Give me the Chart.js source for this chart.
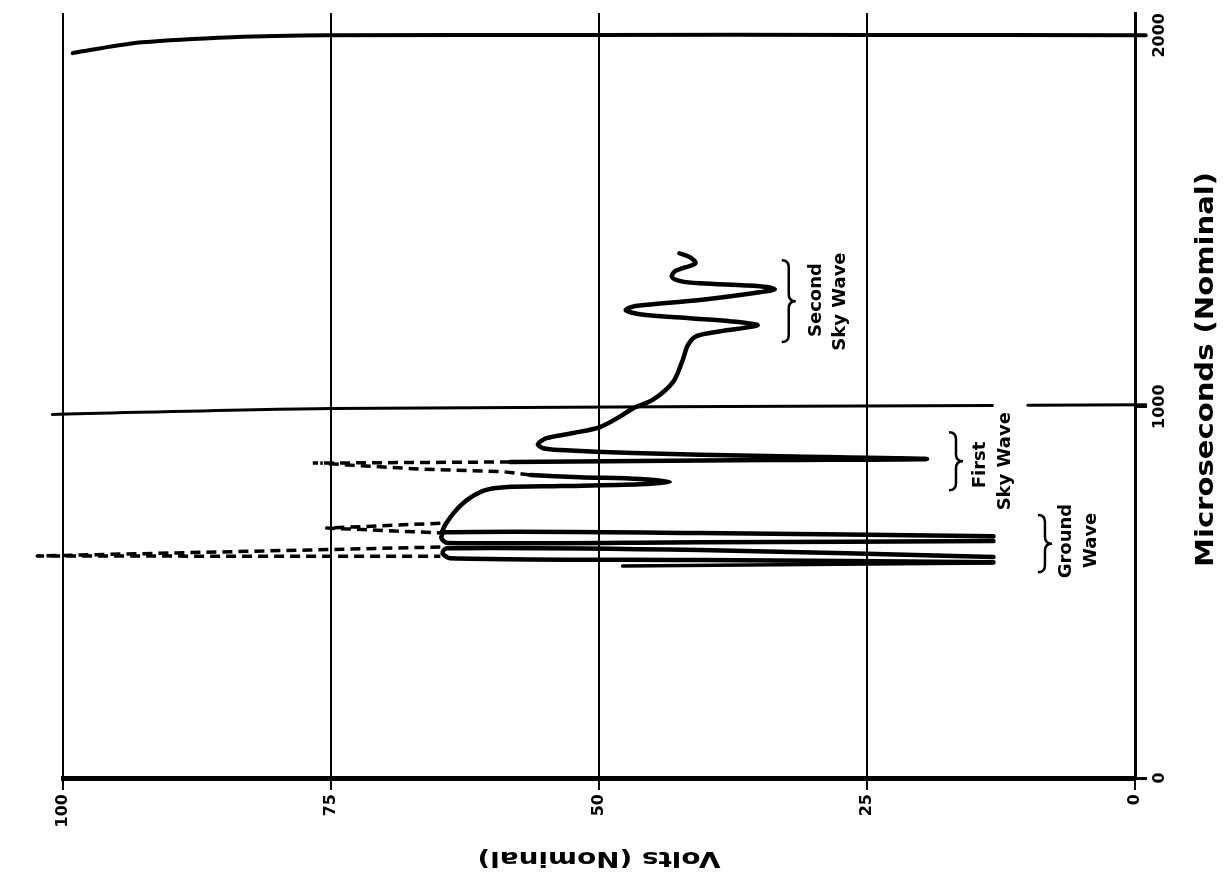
<!DOCTYPE html>
<html>
<head>
<meta charset="utf-8">
<script src="https://cdn.jsdelivr.net/npm/chart.js@4.4.0/dist/chart.umd.min.js"></script>
<style>
  body { margin: 0; background: #fff; }
  #wrap { width: 1227px; height: 880px; }
</style>
</head>
<body>
<div id="wrap"><canvas id="myChart"></canvas></div>
<script>
// x = volts (drawn reversed, 100 on the left), y = microseconds
var voltTicks = [0, 25, 50, 75, 100];
var usTicks = [0, 1000, 2000];

// ground wave
var leadV = [47.8, 13.2];
var leadUs = [571, 579];
var pulse1V = [13.2, 40.6, 63.9, 64.6, 64.2, 40.6, 13.2];
var pulse1Us = [581, 587, 592, 606, 619, 614, 595];
var pulse2V = [13.2, 40.6, 64.1, 64.7, 64.4, 40.6, 13.2];
var pulse2Us = [638, 635, 633, 646, 662, 660, 651];
var groundDash1V = [64.8, 77.0, 102.4, 77.0, 64.8];
var groundDash1Us = [622, 614, 598, 597, 597];
var groundDash2V = [64.8, 75.4, 64.8];
var groundDash2Us = [686, 673, 660];
var tipDotV = [102.4];
var tipDotUs = [592];

// first sky wave
var shoulderV = [64.7, 64.3, 63.4, 62.2, 60.6, 58.8, 53.6, 46.2, 43.4, 46.2, 51.8, 56.4];
var shoulderUs = [660, 684, 719, 751, 775, 783, 786, 791, 797, 805, 810, 816];
var skyDashLowV = [56.4, 59.0, 66.7, 73.5, 76.0];
var skyDashLowUs = [816, 825, 832, 843, 848];
var skyDashHighV = [58.3, 76.7];
var skyDashHighUs = [851, 848];

// first sky wave peak running up into the second sky wave
var traceV = [58.3, 34.3, 19.4, 34.3, 46.8, 53.6, 55.2, 55.7, 54.9, 52.4, 49.9, 48.0, 46.8,
  45.0, 43.1, 42.2, 41.7, 40.9, 38.7, 35.2, 37.8, 41.5, 46.2, 47.5, 46.6, 40.6, 35.0, 33.6,
  35.0, 40.6, 42.4, 43.2, 42.9, 41.0, 41.5, 42.5];
var traceUs = [851, 856, 859, 867, 875, 883, 888, 899, 915, 929, 945, 974, 996,
  1018, 1066, 1125, 1166, 1190, 1203, 1219, 1230, 1238, 1249, 1260, 1271, 1287, 1308, 1316,
  1324, 1332, 1338, 1349, 1365, 1386, 1402, 1413];

// hand drawn frame lines
var topEdgeV = [99.1, 98.2, 92.6, 84.2, 75.3, 50, 25, 0, -1];
var topEdgeUs = [1952, 1957, 1981, 1995, 2000, 2001, 2001, 2000, 2000];
var midLineV = [101, 75, 13.3];
var midLineUs = [979, 995, 1003];
var midLine2V = [10, -1];
var midLine2Us = [1004, 1005];

function pts(v, us) {
  return v.map(function (x, i) { return { x: x, y: us[i] }; });
}

function solid(v, us, w) {
  return {
    data: pts(v, us), showLine: true, pointRadius: 0, borderColor: '#000',
    borderWidth: w || 4.5, tension: 0.3, clip: false,
    borderCapStyle: 'round', borderJoinStyle: 'round'
  };
}

function dashed(v, us) {
  var d = solid(v, us, 3.5);
  d.borderDash = [10, 6];
  d.borderCapStyle = 'butt';
  d.tension = 0;
  return d;
}

var notes = [
  { text: 'Second', v: 29.7, us: 1287 },
  { text: 'Sky Wave', v: 27.5, us: 1283 },
  { text: 'First', v: 14.4, us: 843 },
  { text: 'Sky Wave', v: 12.1, us: 853 },
  { text: 'Ground', v: 6.4, us: 638 },
  { text: 'Wave', v: 4.1, us: 640 }
];
var braces = [
  { v: 32.3, us0: 1174, us1: 1394 },
  { v: 16.7, us0: 775, us1: 931 },
  { v: 8.4, us0: 554, us1: 708 }
];

function drawText(ctx, str, x, y, rot, size, len) {
  ctx.save();
  ctx.translate(x, y);
  ctx.rotate(rot);
  ctx.font = 'bold ' + size + 'px "DejaVu Sans"';
  ctx.textAlign = 'center';
  ctx.textBaseline = 'middle';
  ctx.fillStyle = '#000';
  if (len) {
    var w = ctx.measureText(str).width;
    ctx.scale(len / w, 1);
  }
  ctx.fillText(str, 0, 0);
  ctx.restore();
}

function drawBrace(ctx, x, yTop, yBot) {
  var w = 7, r = 7, yMid = (yTop + yBot) / 2;
  ctx.save();
  ctx.strokeStyle = '#000';
  ctx.lineWidth = 2.5;
  ctx.beginPath();
  ctx.moveTo(x - w, yTop);
  ctx.quadraticCurveTo(x, yTop, x, yTop + r);
  ctx.lineTo(x, yMid - r);
  ctx.quadraticCurveTo(x, yMid, x + w, yMid);
  ctx.quadraticCurveTo(x, yMid, x, yMid + r);
  ctx.lineTo(x, yBot - r);
  ctx.quadraticCurveTo(x, yBot, x - w, yBot);
  ctx.stroke();
  ctx.restore();
}

var textPlugin = {
  id: 'textPlugin',
  afterDraw: function (chart) {
    var ctx = chart.ctx;
    var xs = chart.scales.x, ys = chart.scales.y;
    usTicks.forEach(function (t) {
      drawText(ctx, String(t), ys.left + 25, ys.getPixelForValue(t), -Math.PI / 2, 16);
    });
    notes.forEach(function (n) {
      drawText(ctx, n.text, xs.getPixelForValue(n.v), ys.getPixelForValue(n.us), -Math.PI / 2, 18);
    });
    braces.forEach(function (b) {
      drawBrace(ctx, xs.getPixelForValue(b.v), ys.getPixelForValue(b.us1), ys.getPixelForValue(b.us0));
    });
    drawText(ctx, 'Volts (Nominal)', xs.getPixelForValue(50), chart.height - 23, Math.PI, 21, 243);
    drawText(ctx, 'Microseconds (Nominal)', chart.width - 21, ys.getPixelForValue(1100), -Math.PI / 2, 25, 395);
  }
};

Chart.defaults.font.family = '"DejaVu Sans"';
Chart.defaults.color = '#000';

var ctx = document.getElementById('myChart');
var myChart = new Chart(ctx, {
  type: 'scatter',
  data: {
    datasets: [
      solid(leadV, leadUs, 3.5),
      solid(pulse1V, pulse1Us),
      solid(pulse2V, pulse2Us),
      solid(shoulderV, shoulderUs),
      solid(traceV, traceUs),
      dashed(groundDash1V, groundDash1Us),
      dashed(groundDash2V, groundDash2Us),
      dashed(skyDashLowV, skyDashLowUs),
      dashed(skyDashHighV, skyDashHighUs),
      { data: pts(tipDotV, tipDotUs), pointRadius: 3.5, backgroundColor: '#000', borderColor: '#000', clip: false },
      solid(topEdgeV, topEdgeUs, 4),
      solid(midLineV, midLineUs, 3),
      solid(midLine2V, midLine2Us, 3)
    ]
  },
  options: {
    animation: false,
    responsive: true,
    maintainAspectRatio: false,
    layout: { padding: { left: 63, top: 13, right: 0, bottom: 0 } },
    plugins: { legend: { display: false }, tooltip: { enabled: false } },
    scales: {
      x: {
        type: 'linear',
        reverse: true,
        min: 0,
        max: 100,
        afterBuildTicks: function (scale) {
          scale.ticks = voltTicks.map(function (v) { return { value: v }; });
        },
        afterFit: function (scale) { scale.height = 102; },
        ticks: {
          autoSkip: false, minRotation: 90, maxRotation: 90, padding: 4,
          font: { size: 16, weight: 'bold' }, color: '#000'
        },
        grid: { color: '#000', lineWidth: 2, tickLength: 12, drawTicks: true },
        border: { display: true, color: '#000', width: 5 }
      },
      y: {
        type: 'linear',
        position: 'right',
        min: 0,
        max: 2060,
        afterBuildTicks: function (scale) {
          scale.ticks = usTicks.map(function (v) { return { value: v }; });
        },
        afterFit: function (scale) { scale.width = 92; },
        ticks: { display: false },
        grid: { color: '#000', lineWidth: 3, tickLength: 12, drawTicks: true, drawOnChartArea: false },
        border: { display: true, color: '#000', width: 3 }
      }
    }
  },
  plugins: [textPlugin]
});
</script>
</body>
</html>
